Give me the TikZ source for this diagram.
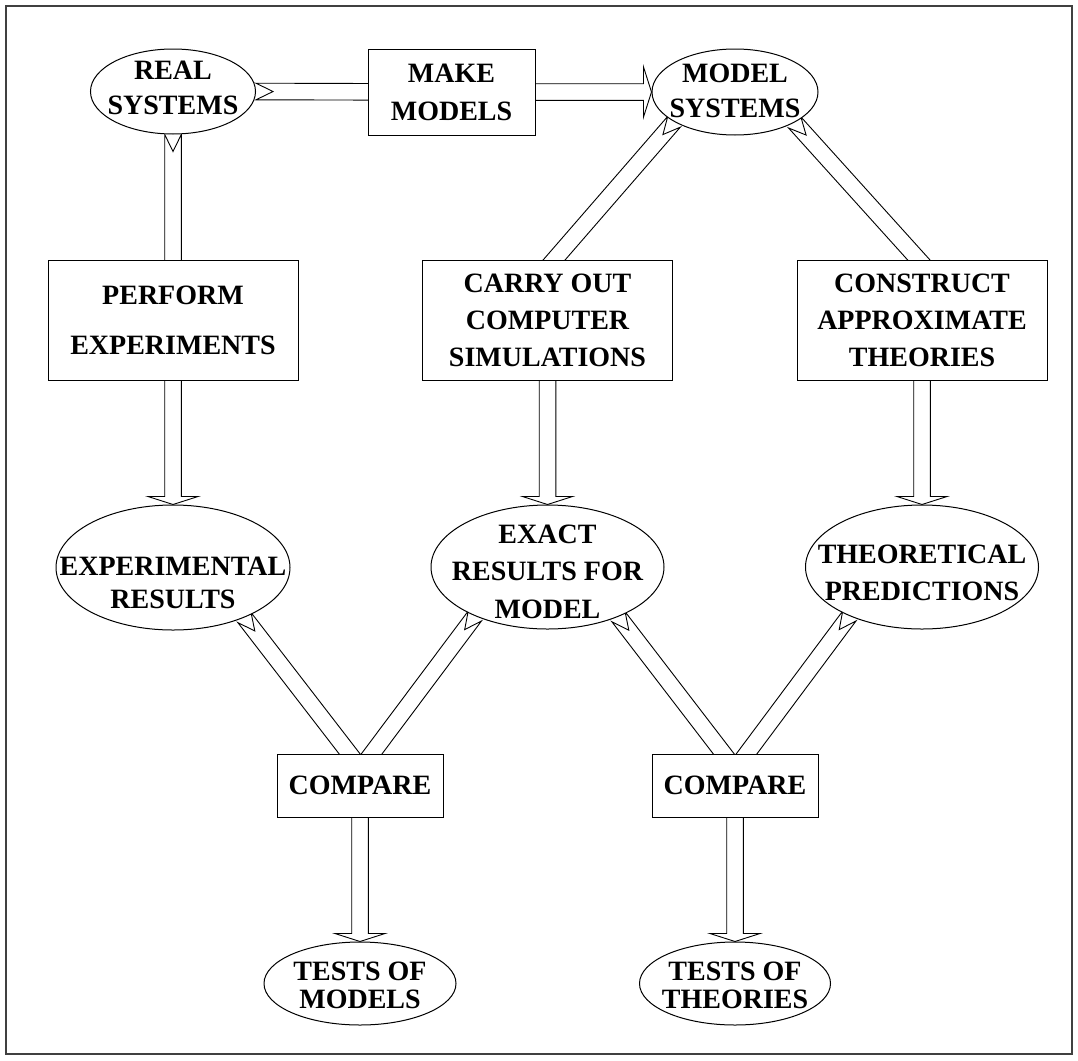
\documentclass[tikz,border=0pt]{standalone}
\usepackage{fontspec}
\setmainfont{Liberation Serif}
\usetikzlibrary{shapes.geometric,calc,backgrounds}

% hollow arrow: notched tail at #1, flat head with tip at #2
\newcommand{\hollowarrow}[2]{%
  \coordinate (hb) at ($(#2)!8pt!(#1)$);
  \draw[arrowline] ($(#1)!8.3pt!90:(#2)$) -- ($(hb)!8.3pt!90:(#2)$)
    -- ($(hb)!25pt!90:(#2)$) -- (#2) -- ($(hb)!25pt!-90:(#2)$)
    -- ($(hb)!8.3pt!-90:(#2)$) -- ($(#1)!8.3pt!-90:(#2)$)
    -- ($(#1)!17pt!(#2)$) -- cycle;}

\tikzset{
  box/.style={draw, fill=white, line width=1pt, rectangle, inner sep=0pt, align=center},
  oval/.style={draw, fill=white, line width=1pt, ellipse, inner sep=0pt},
  txt/.style={align=center, inner sep=0pt},
  lsp/.style={font=\fontsize{28}{#1}\selectfont\bfseries},
  arrowline/.style={line width=0.9pt, line join=miter},
}

\begin{document}
\begin{tikzpicture}[x=1pt, y=1pt]
  \useasboundingbox (0,0) rectangle (1078,-1060);
  \draw[line width=1.2pt, black!75] (6,-6) rectangle (1072,-1054);

  % top row
  \node[oval, minimum width=165, minimum height=85,
        label={[txt, lsp=35, yshift=4]center:{REAL\\SYSTEMS}}] (real) at (173,-91.5) {};
  \node[box, lsp=38, minimum width=167, minimum height=86] (make) at (451.5,-92) {MAKE\\MODELS};
  \node[oval, minimum width=166, minimum height=86,
        label={[txt, lsp=34.5, yshift=1]center:{MODEL\\SYSTEMS}}] (msys) at (735,-92) {};

  % methods
  \node[box, lsp=50, minimum width=250, minimum height=120] (perform) at (173,-320) {PERFORM\\EXPERIMENTS};
  \node[box, lsp=37, minimum width=250, minimum height=120] (carry) at (547.5,-320) {CARRY OUT\\COMPUTER\\SIMULATIONS};
  \node[box, lsp=37, minimum width=250, minimum height=120] (construct) at (922,-320) {CONSTRUCT\\APPROXIMATE\\THEORIES};

  % results
  \node[oval, minimum width=234, minimum height=125,
        label={[txt, lsp=33, yshift=-15]center:{EXPERIMENTAL\\RESULTS}}] (exp) at (173,-567.5) {};
  \node[oval, minimum width=233, minimum height=124,
        label={[txt, lsp=37.5, yshift=-4.5]center:{EXACT\\RESULTS FOR\\MODEL}}] (exact) at (547.5,-567) {};
  \node[oval, minimum width=233, minimum height=124,
        label={[txt, lsp=37, yshift=-5.5]center:{THEORETICAL\\PREDICTIONS}}] (theo) at (922,-567) {};

  % comparisons
  \node[box, lsp=33, minimum width=166, minimum height=63] (cmp1) at (360,-785.5) {COMPARE};
  \node[box, lsp=33, minimum width=166, minimum height=63] (cmp2) at (735,-785.5) {COMPARE};
  \node[oval, minimum width=192, minimum height=83,
        label={[txt, lsp=28, yshift=-2]center:{TESTS OF\\MODELS}}] (tmod) at (360,-983.5) {};
  \node[oval, minimum width=191, minimum height=83,
        label={[txt, lsp=28, yshift=-2]center:{TESTS OF\\THEORIES}}] (tthe) at (735,-983.5) {};

  \coordinate (carry-in) at ($(carry.center)+(-45.5,0)$);
  \coordinate (cons-in) at ($(construct.center)+(51,0)$);
  \coordinate (cmp1-l) at ($(cmp1.center)+(14,0)$);
  \coordinate (cmp1-r) at ($(cmp1.center)+(-12,0)$);
  \coordinate (cmp2-l) at ($(cmp2.center)+(13,0)$);
  \coordinate (cmp2-r) at ($(cmp2.center)+(-12,0)$);

  \begin{pgfonlayer}{background}
    \hollowarrow{real.east}{make.center}
    \hollowarrow{make.center}{msys.west}
    \hollowarrow{real.south}{perform.center}
    \hollowarrow{msys.206}{carry-in}
    \hollowarrow{msys.333}{cons-in}
    \hollowarrow{perform.center}{exp.north}
    \hollowarrow{carry.center}{exact.north}
    \hollowarrow{construct.center}{theo.north}
    \hollowarrow{exp.325}{cmp1-l}
    \hollowarrow{exact.214}{cmp1-r}
    \hollowarrow{exact.325}{cmp2-l}
    \hollowarrow{theo.214}{cmp2-r}
    \hollowarrow{cmp1.center}{tmod.north}
    \hollowarrow{cmp2.center}{tthe.north}
  \end{pgfonlayer}
\end{tikzpicture}
\end{document}
